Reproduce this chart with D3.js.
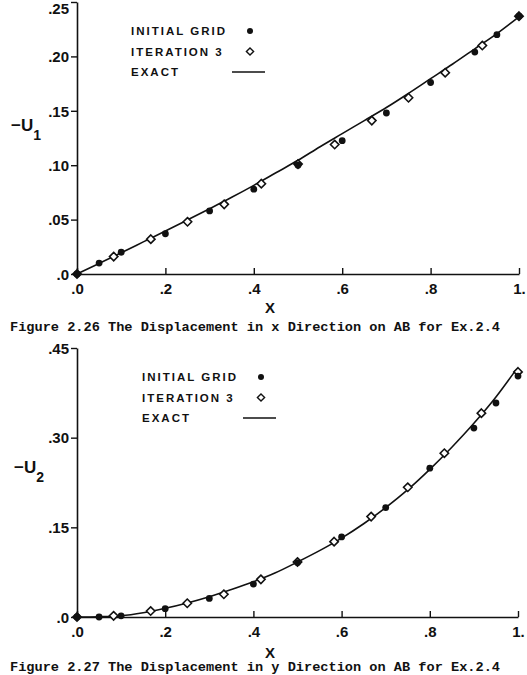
<!DOCTYPE html>
<html><head><meta charset="utf-8">
<script src="https://cdn.jsdelivr.net/npm/d3@7"></script>
<style>
html,body{margin:0;padding:0;background:#fff;}
svg{display:block;}
.tick text{font-family:"Liberation Sans",Arial,sans-serif;font-weight:bold;font-size:15px;fill:#111;}
</style>
</head><body>
<script>
// ---- Data ----
const topInitX = [0, .05, .10, .20, .30, .40, .50, .60, .70, .80, .90, .95, 1.0];
const topInitY = [0, .010, .020, .037, .058, .078, .100, .1225, .148, .176, .204, .220, .237];
const topIterX = [0, .083, .167, .25, .333, .417, .50, .583, .667, .75, .833, .917, 1.0];
const topIterY = [0, .016, .032, .048, .064, .083, .101, .119, .141, .162, .185, .210, .237];
const topExactX = [0, .05, .10, .15, .20, .25, .30, .35, .40, .45, .50, .55, .60, .65, .70, .75, .80, .85, .90, .95, 1.0];
const topExactY = [0, .0097, .0195, .0295, .0395, .0497, .060, .0705, .0815, .093, .1045, .117, .129, .141, .153, .166, .1795, .193, .207, .221, .2365];

const botInitX = [0, .05, .10, .20, .30, .40, .50, .60, .70, .80, .90, .95, 1.0];
const botInitY = [0, 0, .002, .014, .031, .055, .091, .134, .183, .249, .316, .358, .403];
const botIterX = [0, .083, .167, .25, .333, .417, .50, .583, .667, .75, .833, .917, 1.0];
const botIterY = [0, .002, .010, .023, .038, .063, .092, .126, .168, .217, .274, .341, .410];
const botExactX = [0, .05, .10, .15, .20, .25, .30, .35, .40, .45, .50, .55, .60, .65, .70, .75, .80, .85, .90, .95, .995];
const botExactY = [0, .0005, .002, .007, .0145, .0235, .034, .046, .059, .074, .092, .111, .132, .156, .183, .213, .247, .284, .324, .368, .413];

const xTicks = [0, .2, .4, .6, .8, 1.0];
const xTickLabels = [".0", ".2", ".4", ".6", ".8", "1."];
const topYTicks = [0, .05, .10, .15, .20, .25];
const topYTickLabels = [".0", ".05", ".10", ".15", ".20", ".25"];
const botYTicks = [0, .15, .30, .45];
const botYTickLabels = [".0", ".15", ".30", ".45"];
const legendLabels = ["INITIAL GRID", "ITERATION 3", "EXACT"];
const captions = ["Figure 2.26 The Displacement in x Direction on AB for Ex.2.4",
                  "Figure 2.27 The Displacement in y Direction on AB for Ex.2.4"];

const W = 527, H = 675;
const svg = d3.select("body").append("svg").attr("width", W).attr("height", H);

function diamond(r) {
  const p = d3.path();
  p.moveTo(0, -r); p.lineTo(r, 0); p.lineTo(0, r); p.lineTo(-r, 0); p.closePath();
  return p.toString();
}

function panel(cfg) {
  const g = svg.append("g");
  const x = d3.scaleLinear().domain([0, 1]).range(cfg.xr);
  const y = d3.scaleLinear().domain(cfg.yd).range(cfg.yr);

  // y axis
  const ya = g.append("g").attr("transform", `translate(${cfg.xr[0]},0)`)
    .call(d3.axisLeft(y).tickValues(cfg.yTicks).tickSizeInner(6).tickSizeOuter(0).tickPadding(2)
      .tickFormat((d, i) => cfg.yLabels[i]));
  ya.select(".domain").attr("stroke", "#111").attr("stroke-width", 1.6);
  ya.selectAll(".tick line").attr("stroke", "#111").attr("stroke-width", 1.4);
  ya.selectAll(".tick text").attr("dy", d => (y(d) < 8 ? "0.75em" : "0.35em"));

  // x axis (ticks point up)
  const xa = g.append("g").attr("transform", `translate(0,${y(0)})`)
    .call(d3.axisBottom(x).tickValues(xTicks).tickSizeInner(-6).tickSizeOuter(0).tickPadding(9)
      .tickFormat((d, i) => xTickLabels[i]));
  xa.select(".domain").attr("stroke", "#111").attr("stroke-width", 1.6);
  xa.selectAll(".tick line").attr("stroke", "#111").attr("stroke-width", 1.4);

  // exact line
  const line = d3.line().x(d => x(d[0])).y(d => y(d[1])).curve(d3.curveMonotoneX);
  g.append("path").datum(cfg.exX.map((v, i) => [v, cfg.exY[i]]))
    .attr("d", line).attr("fill", "none").attr("stroke", "#111").attr("stroke-width", 1.6);

  // iteration 3 diamonds
  g.selectAll("path.iter").data(cfg.itX.map((v, i) => [v, cfg.itY[i]])).enter()
    .append("path").attr("class", "iter").attr("d", diamond(4.2))
    .attr("transform", d => `translate(${x(d[0])},${y(d[1])})`)
    .attr("fill", "#fff").attr("stroke", "#111").attr("stroke-width", 1.6);

  // initial grid dots
  g.selectAll("circle.init").data(cfg.inX.map((v, i) => [v, cfg.inY[i]])).enter()
    .append("circle").attr("class", "init")
    .attr("cx", d => x(d[0])).attr("cy", d => y(d[1])).attr("r", 3.4).attr("fill", "#111");

  // legend
  const lg = g.append("g");
  legendLabels.forEach((t, i) => {
    lg.append("text").attr("x", cfg.legX).attr("y", cfg.legY + i * 20.5).attr("dy", "0.35em")
      .attr("font-family", "Liberation Sans, Arial, sans-serif").attr("font-weight", "bold")
      .attr("font-size", 11.5).attr("letter-spacing", "2px").attr("fill", "#111").text(t);
  });
  lg.append("circle").attr("cx", cfg.symX).attr("cy", cfg.legY).attr("r", 3).attr("fill", "#111");
  lg.append("path").attr("d", diamond(3.6))
    .attr("transform", `translate(${cfg.symX},${cfg.legY + 20.5})`)
    .attr("fill", "#fff").attr("stroke", "#111").attr("stroke-width", 1.4);
  lg.append("line").attr("x1", cfg.symX - 18).attr("x2", cfg.symX + 15)
    .attr("y1", cfg.legY + 41).attr("y2", cfg.legY + 41).attr("stroke", "#111").attr("stroke-width", 1.4);

  // y axis title  -U with subscript
  const yt = g.append("text").attr("x", cfg.ytX).attr("y", cfg.ytY)
    .attr("font-family", "Liberation Sans, Arial, sans-serif").attr("font-weight", "bold")
    .attr("font-size", 17).attr("fill", "#111");
  yt.append("tspan").text("\u2212U");
  yt.append("tspan").attr("font-size", 14).attr("dy", 9).text(cfg.sub);

  // x axis title
  g.append("text").attr("x", 270).attr("y", cfg.xtY).attr("text-anchor", "middle").attr("dy", "0.35em")
    .attr("font-family", "Liberation Sans, Arial, sans-serif").attr("font-weight", "bold")
    .attr("font-size", 15).attr("fill", "#111").text("X");

  // caption
  g.append("text").attr("x", 10).attr("y", cfg.capY).attr("dy", "0.35em")
    .attr("font-family", "Liberation Mono, DejaVu Sans Mono, monospace").attr("font-weight", "bold")
    .attr("font-size", 12).attr("textLength", 490).attr("lengthAdjust", "spacingAndGlyphs")
    .attr("fill", "#111").text(cfg.caption);
}

panel({
  xr: [77, 519], yd: [0, .25], yr: [274, 2],
  yTicks: topYTicks, yLabels: topYTickLabels,
  inX: topInitX, inY: topInitY, itX: topIterX, itY: topIterY, exX: topExactX, exY: topExactY,
  legX: 131, legY: 31, symX: 250, ytX: 11, ytY: 131, sub: "1", xtY: 308, capY: 327,
  caption: captions[0]
});
panel({
  xr: [77, 518], yd: [0, .45], yr: [617, 348],
  yTicks: botYTicks, yLabels: botYTickLabels,
  inX: botInitX, inY: botInitY, itX: botIterX, itY: botIterY, exX: botExactX, exY: botExactY,
  legX: 142, legY: 377, symX: 261, ytX: 14, ytY: 473, sub: "2", xtY: 653, capY: 667,
  caption: captions[1]
});
</script>
</body></html>
